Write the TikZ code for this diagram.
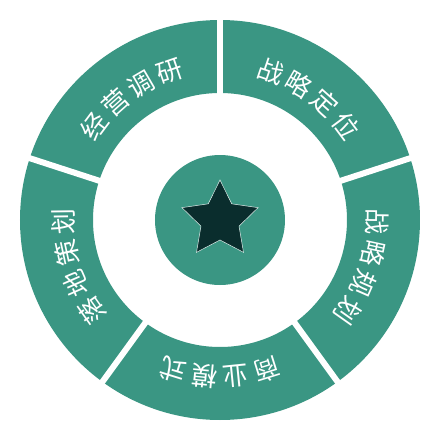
\documentclass[tikz,border=0pt]{standalone}
\usepackage{fontspec}
\newfontfamily\cjk{Noto Sans CJK SC}
\usepackage{tikz}
\usetikzlibrary{
    shapes.geometric, positioning, calc
}
\definecolor{ringTeal}{HTML}{3A9683}
\definecolor{starDark}{HTML}{0A2D2D}
\def\rIn{127}
\def\rOut{200}
\def\rText{157}
\def\cStep{11.5}
\tikzset{
    wordchar/.style={text=white, font=\cjk\fontsize{26}{26}\selectfont, inner sep=0pt, anchor=center},
    gapline/.style={draw=white, line width=6pt},
    hub/.style={circle, fill=ringTeal, minimum size=130pt, inner sep=0pt},
    starmark/.style={star, star points=5, star point ratio=2, fill=starDark, draw=white!85!ringTeal, line width=0.5pt, minimum size=80pt, inner sep=0pt}
}
\newcommand{\ArcWord}[3]{
    \foreach \c [count=\i] in {#3} {
        \pgfmathsetmacro{\a}{#2+1.5*\cStep-\cStep*(\i-1)}
        \node[wordchar, rotate=\a-90] (#1-\i) at (\a:\rText) {\c};
    }
}

\begin{document}
\begin{tikzpicture}[x=1pt, y=1pt]
        \useasboundingbox (-220,-220) rectangle (220,220);
        % Ring
        \fill[ringTeal, even odd rule] (0,0) circle (\rOut) (0,0) circle (\rIn);
        \foreach \g in {90, 18, -54, -126, 162} {
            \draw[gapline] (\g:\rIn-5) -- (\g:\rOut+5);
        }
        % Labels
        \ArcWord{survey}{126}{经,营,调,研}
        \ArcWord{position}{54}{战,略,定,位}
        \ArcWord{plan}{-18}{战,略,规,划}
        \ArcWord{model}{-90}{商,业,模,式}
        \ArcWord{landing}{198}{落,地,策,划}
        % Hub
        \node[hub] (hub) at (0,0) {};
        \node[starmark] (star) at (hub.center) {};
    \end{tikzpicture}
\end{document}
